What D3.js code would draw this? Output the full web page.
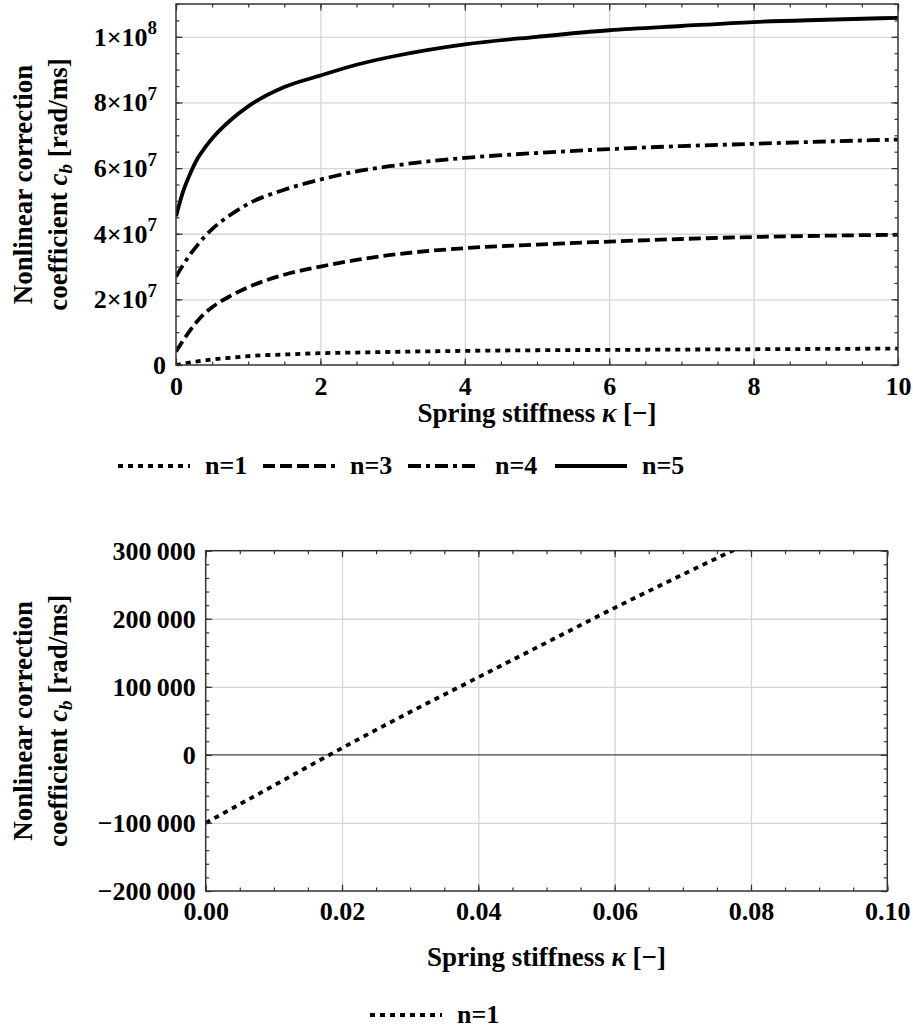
<!DOCTYPE html>
<html>
<head>
<meta charset="utf-8">
<script src="https://cdn.jsdelivr.net/npm/d3@7"></script>
<style>
  body { margin: 0; background: #fff; }
  svg text { font-family: "Liberation Serif", "Times New Roman", serif; font-weight: bold; fill: #000; }
</style>
</head>
<body>
<svg id="chart" width="913" height="1030"></svg>
<script>
// ---- data ----
const kappa = [0, 0.1, 0.2, 0.3, 0.4, 0.5, 0.75, 1, 1.5, 2, 2.5, 3, 4, 5, 6, 7, 8, 9, 10];
const cbN1 = [-0.01e7, 0.04e7, 0.08e7, 0.11e7, 0.14e7, 0.17e7, 0.22e7, 0.27e7, 0.32e7, 0.36e7, 0.38e7, 0.40e7, 0.43e7, 0.45e7, 0.46e7, 0.47e7, 0.48e7, 0.49e7, 0.50e7];
const cbN3 = [0.41e7, 0.75e7, 1.07e7, 1.35e7, 1.58e7, 1.76e7, 2.10e7, 2.37e7, 2.75e7, 3.00e7, 3.20e7, 3.36e7, 3.56e7, 3.67e7, 3.76e7, 3.84e7, 3.90e7, 3.94e7, 3.97e7];
const cbN4 = [2.69e7, 3.05e7, 3.38e7, 3.66e7, 3.92e7, 4.14e7, 4.57e7, 4.91e7, 5.34e7, 5.65e7, 5.90e7, 6.07e7, 6.31e7, 6.46e7, 6.58e7, 6.67e7, 6.74e7, 6.81e7, 6.87e7];
const cbN5 = [4.53e7, 5.30e7, 5.85e7, 6.30e7, 6.62e7, 6.90e7, 7.45e7, 7.88e7, 8.47e7, 8.82e7, 9.15e7, 9.40e7, 9.77e7, 10.0e7, 10.2e7, 10.33e7, 10.45e7, 10.52e7, 10.58e7];

const kappaZoom = [0, 0.01, 0.02, 0.03, 0.04, 0.05, 0.06, 0.07, 0.08];
const cbZoomN1 = [-100000, -45000, 10000, 63000, 114000, 165000, 216000, 265000, 313000];

const seriesNames = ['n=1', 'n=3', 'n=4', 'n=5'];
const topXTicks = [0, 2, 4, 6, 8, 10];
const topYTicks = [0, 2e7, 4e7, 6e7, 8e7, 1e8];
const botXTicks = [0, 0.02, 0.04, 0.06, 0.08, 0.10];
const botYTicks = [-200000, -100000, 0, 100000, 200000, 300000];

const dashes = {'n=1': '5,5', 'n=3': '12,5', 'n=4': '13,5,4,5', 'n=5': null};

const svg = d3.select('#chart');

const locale = d3.formatLocale({decimal: '.', thousands: '\u2009', grouping: [3], currency: ['', ''], minus: '\u2212'});
const fmtThousands = locale.format(',d');

const TICK_FS = 26, TITLE_FS = 27;

function drawPanel(cfg) {
  const x = d3.scaleLinear().domain(cfg.xDomain).range([cfg.left, cfg.right]);
  const y = d3.scaleLinear().domain(cfg.yDomain).range([cfg.bottom, cfg.top]);
  const w = cfg.right - cfg.left, h = cfg.bottom - cfg.top;
  const g = svg.append('g');

  // grid
  const grid = g.append('g').attr('class', 'grid');
  grid.append('g')
    .attr('transform', `translate(0,${cfg.bottom})`)
    .call(d3.axisBottom(x).tickValues(cfg.xTicks.slice(1, -1)).tickSize(-h).tickFormat(''));
  grid.append('g')
    .attr('transform', `translate(${cfg.left},0)`)
    .call(d3.axisLeft(y).tickValues(cfg.yTicks.filter(v => v !== 0 && v !== cfg.yDomain[0] && v !== cfg.yDomain[1])).tickSize(-w).tickFormat(''));
  grid.selectAll('.domain').remove();
  grid.selectAll('line').attr('stroke', '#d6d6d6').attr('stroke-width', 1.3);

  if (cfg.zeroLine) {
    g.append('line')
      .attr('x1', cfg.left).attr('x2', cfg.right)
      .attr('y1', y(0)).attr('y2', y(0))
      .attr('stroke', '#444').attr('stroke-width', 1.3);
  }

  // curves
  const clipId = 'clip' + cfg.id;
  svg.append('clipPath').attr('id', clipId)
    .append('rect').attr('x', cfg.left).attr('y', cfg.top).attr('width', w).attr('height', h);
  const line = d3.line().x(d => x(d[0])).y(d => y(d[1])).curve(d3.curveMonotoneX);
  cfg.series.forEach(s => {
    g.append('path')
      .datum(s.xs.map((k, i) => [k, s.ys[i]]))
      .attr('clip-path', `url(#${clipId})`)
      .attr('d', line)
      .attr('fill', 'none')
      .attr('stroke', '#000')
      .attr('stroke-width', 3.8)
      .attr('stroke-dasharray', dashes[s.name]);
  });

  // ticks on all four sides
  const ticks = g.append('g').attr('class', 'ticks');
  const xMinor = d3.range(cfg.xDomain[0], cfg.xDomain[1] + cfg.xMinorStep / 2, cfg.xMinorStep);
  const yMinor = d3.range(cfg.yDomain[0], cfg.yDomain[1] + cfg.yMinorStep / 2, cfg.yMinorStep);
  const minor = [
    [d3.axisBottom(x).tickValues(xMinor), `translate(0,${cfg.bottom})`],
    [d3.axisTop(x).tickValues(xMinor), `translate(0,${cfg.top})`],
    [d3.axisLeft(y).tickValues(yMinor), `translate(${cfg.left},0)`],
    [d3.axisRight(y).tickValues(yMinor), `translate(${cfg.right},0)`]
  ];
  minor.forEach(([ax, tr]) => {
    ticks.append('g').attr('transform', tr)
      .call(ax.tickSizeInner(-3.5).tickSizeOuter(0).tickFormat(''));
  });

  const xAxis = d3.axisBottom(x).tickValues(cfg.xTicks).tickSizeInner(-6.5).tickSizeOuter(0)
    .tickPadding(cfg.xPad).tickFormat(cfg.xFormat);
  const xAxisG = ticks.append('g').attr('transform', `translate(0,${cfg.bottom})`).call(xAxis);
  ticks.append('g').attr('transform', `translate(0,${cfg.top})`)
    .call(d3.axisTop(x).tickValues(cfg.xTicks).tickSizeInner(-6.5).tickSizeOuter(0).tickFormat(''));
  const yAxisG = ticks.append('g').attr('transform', `translate(${cfg.left},0)`)
    .call(d3.axisLeft(y).tickValues(cfg.yTicks).tickSizeInner(-6.5).tickSizeOuter(0).tickPadding(cfg.yPad).tickFormat(''));
  ticks.append('g').attr('transform', `translate(${cfg.right},0)`)
    .call(d3.axisRight(y).tickValues(cfg.yTicks).tickSizeInner(-6.5).tickSizeOuter(0).tickFormat(''));
  ticks.selectAll('.domain').remove();
  ticks.selectAll('.tick line').attr('stroke', '#333').attr('stroke-width', 1.2);

  xAxisG.selectAll('text').attr('font-size', TICK_FS).attr('fill', '#000');
  yAxisG.selectAll('text').attr('font-size', TICK_FS).attr('fill', '#000')
    .each(function(d) { cfg.yLabel(d3.select(this), d); });

  // frame
  g.append('rect')
    .attr('x', cfg.left).attr('y', cfg.top).attr('width', w).attr('height', h)
    .attr('fill', 'none').attr('stroke', '#333').attr('stroke-width', 1.5);

  // axis titles
  const xt = g.append('text')
    .attr('x', (cfg.left + cfg.right) / 2).attr('y', cfg.xTitleY)
    .attr('text-anchor', 'middle').attr('font-size', TITLE_FS);
  xt.append('tspan').text('Spring stiffness ');
  xt.append('tspan').attr('font-style', 'italic').text('κ');
  xt.append('tspan').text(' [\u2212]');

  const cy = (cfg.top + cfg.bottom) / 2;
  g.append('text')
    .attr('transform', `translate(32,${cy}) rotate(-90)`)
    .attr('text-anchor', 'middle').attr('font-size', TITLE_FS)
    .text('Nonlinear correction');
  const yt = g.append('text')
    .attr('transform', `translate(67,${cy}) rotate(-90)`)
    .attr('text-anchor', 'middle').attr('font-size', TITLE_FS);
  yt.append('tspan').text('coefficient ');
  yt.append('tspan').attr('font-style', 'italic').text('c');
  yt.append('tspan').attr('font-style', 'italic').attr('font-size', 19).attr('dy', 5).text('b');
  yt.append('tspan').attr('dy', -5).text(' [rad/ms]');
}

function legend(items, y) {
  items.forEach(it => {
    svg.append('line')
      .attr('x1', it.x).attr('x2', it.x + 72).attr('y1', y).attr('y2', y)
      .attr('stroke', '#000').attr('stroke-width', 3.8)
      .attr('stroke-dasharray', dashes[it.name]);
    svg.append('text')
      .attr('x', it.x + 87).attr('y', y + 8)
      .attr('font-size', TICK_FS).text(it.name);
  });
}

// top panel
drawPanel({
  id: 'top', left: 176, right: 898, top: 4, bottom: 365,
  xDomain: [0, 10], yDomain: [0, 1.1e8],
  xTicks: topXTicks, yTicks: topYTicks,
  xMinorStep: 0.5, yMinorStep: 5e6,
  xPad: 12, yPad: 10,
  xFormat: d3.format('d'),
  yLabel: (t, d) => {
    if (d === 0) { t.text('0'); return; }
    const e = Math.floor(Math.log10(d) + 1e-9);
    const m = Math.round(d / Math.pow(10, e));
    t.text(null).attr('dx', -9);
    t.append('tspan').text(m + '\u00d710');
    t.append('tspan').attr('font-size', 19).attr('dy', '-0.6em').text(e);
  },
  xTitleY: 422,
  series: [
    {name: seriesNames[0], xs: kappa, ys: cbN1},
    {name: seriesNames[1], xs: kappa, ys: cbN3},
    {name: seriesNames[2], xs: kappa, ys: cbN4},
    {name: seriesNames[3], xs: kappa, ys: cbN5}
  ]
});

legend([
  {name: seriesNames[0], x: 118},
  {name: seriesNames[1], x: 263},
  {name: seriesNames[2], x: 408},
  {name: seriesNames[3], x: 555}
], 466);

// bottom panel (zoom near kappa = 0)
drawPanel({
  id: 'bot', left: 205.7, right: 887.3, top: 550.7, bottom: 891,
  xDomain: [0, 0.1], yDomain: [-200000, 300000],
  xTicks: botXTicks, yTicks: botYTicks,
  xMinorStep: 0.005, yMinorStep: 20000,
  xPad: 11, yPad: 10,
  xFormat: d3.format('.2f'),
  yLabel: (t, d) => t.text(fmtThousands(d)),
  xTitleY: 966,
  zeroLine: true,
  series: [
    {name: seriesNames[0], xs: kappaZoom, ys: cbZoomN1}
  ]
});

legend([{name: seriesNames[0], x: 370}], 1015);
</script>
</body>
</html>
